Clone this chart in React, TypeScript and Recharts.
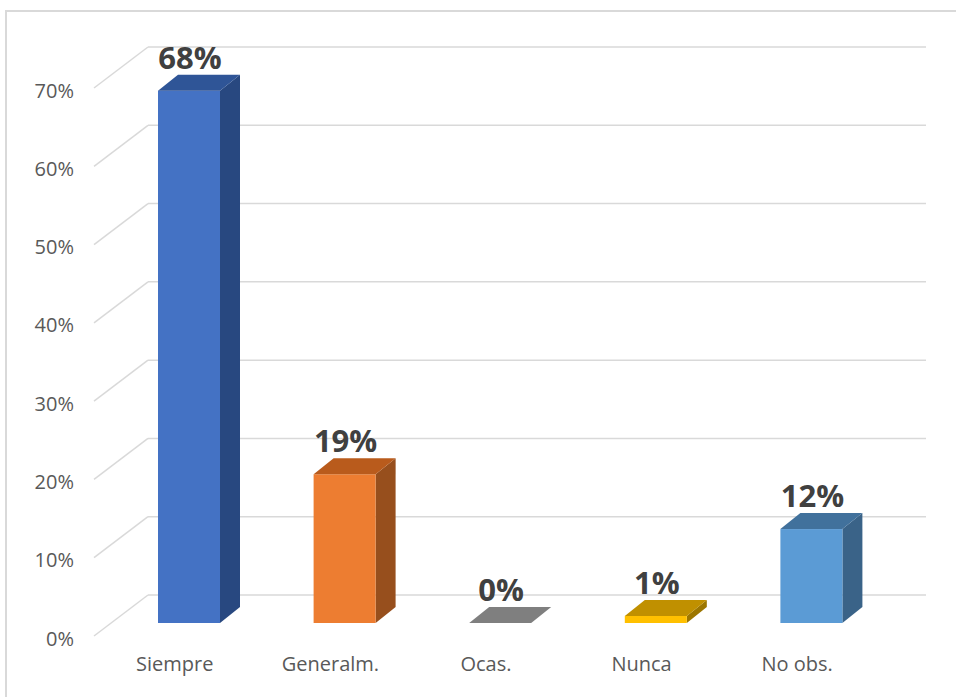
import React from 'react';
import { BarChart, Bar, XAxis, YAxis, CartesianGrid } from 'recharts';

const categories = ['Siempre', 'Generalm.', 'Ocas.', 'Nunca', 'No obs.'];
const values = [0.68, 0.19, 0, 0.009, 0.12];
const yTicks = [0, 0.1, 0.2, 0.3, 0.4, 0.5, 0.6, 0.7];
const yTickLabels = ['0%', '10%', '20%', '30%', '40%', '50%', '60%', '70%'];

const frontColors = ['#4472C4', '#ED7D31', '#A5A5A5', '#FFC000', '#5B9BD5'];
const topColors = ['#2F5597', '#B95B1C', '#7F7F7F', '#C09000', '#41719C'];
const sideColors = ['#284880', '#974F1D', '#636363', '#9C7600', '#3A6388'];

const data = categories.map((c, i) => ({ name: c, value: values[i] }));

const W = 956;
const H = 697;
const MARGIN = { top: 75, right: 67, left: 0, bottom: 44 };
const Y_AXIS_W = 111;
const X_AXIS_H = 30;
const PLOT_LEFT = MARGIN.left + Y_AXIS_W;
const PLOT_RIGHT = W - MARGIN.right;

// 3D depth geometry
const BAR_DX = 20;
const BAR_DY = 16;
const WALL_DX = 37;
const WALL_DY = 28;
const AXIS_DX = 54;
const AXIS_DY = 41;

const FONT = '"Open Sans", "Noto Sans", sans-serif';
const GRID = '#D9D9D9';

const gridLine = (props: any) => {
  const { y1, key } = props;
  const bx = PLOT_LEFT + WALL_DX;
  const by = y1 - WALL_DY;
  const fx = bx - AXIS_DX;
  const fy = by + AXIS_DY;
  return (
    <g key={key}>
      <line x1={bx} y1={by} x2={PLOT_RIGHT + WALL_DX} y2={by} stroke={GRID} strokeWidth={1.5} />
      <line x1={bx} y1={by} x2={fx} y2={fy} stroke={GRID} strokeWidth={1.5} />
    </g>
  );
};

const YTick = (props: any) => {
  const { y, payload, index } = props;
  const fy = y - WALL_DY + AXIS_DY;
  return (
    <text
      x={PLOT_LEFT - 37}
      y={fy + 2}
      textAnchor="end"
      dominantBaseline="central"
      fontFamily={FONT}
      fontSize={20}
      fill="#595959"
    >
      {yTickLabels[index] ?? `${Math.round(payload.value * 100)}%`}
    </text>
  );
};

const XTick = (props: any) => {
  const { x, y, payload } = props;
  return (
    <text
      x={x - 14}
      y={y + 48}
      textAnchor="middle"
      fontFamily={FONT}
      fontSize={20}
      fill="#595959"
    >
      {payload.value}
    </text>
  );
};

const Bar3D = (props: any) => {
  const { x, y, width, height, index, value } = props;
  const w = width;
  const h = Math.max(0, height || 0);
  const v = Array.isArray(value) ? value[1] - value[0] : value;
  return (
    <g>
      {h > 0 && (
        <path
          d={`M${x + w},${y} L${x + w + BAR_DX},${y - BAR_DY} L${x + w + BAR_DX},${y + h - BAR_DY} L${x + w},${y + h} Z`}
          fill={sideColors[index]}
        />
      )}
      {h > 0 && <rect x={x} y={y} width={w} height={h} fill={frontColors[index]} />}
      <path
        d={`M${x},${y} L${x + BAR_DX},${y - BAR_DY} L${x + w + BAR_DX},${y - BAR_DY} L${x + w},${y} Z`}
        fill={topColors[index]}
      />
      <text
        x={x + w / 2 + 1}
        y={y - 22}
        textAnchor="middle"
        fontFamily={FONT}
        fontWeight="bold"
        fontSize={31}
        fill="#404040"
      >
        {`${Math.round(v * 100)}%`}
      </text>
    </g>
  );
};

export default function App() {
  return (
    <div
      style={{
        position: 'absolute',
        left: 0,
        top: 0,
        width: W,
        height: H,
        overflow: 'hidden',
        background: '#fff',
      }}
    >
      <div
        style={{
          position: 'absolute',
          left: 5,
          top: 10,
          width: 1200,
          height: 1200,
          borderLeft: '2px solid #D9D9D9',
          borderTop: '2px solid #D9D9D9',
        }}
      />
      <div style={{ position: 'absolute', left: 0, top: 0 }}>
        <BarChart width={W} height={H} data={data} margin={MARGIN} barSize={62}>
          <CartesianGrid vertical={false} horizontal={gridLine} />
          <YAxis
            type="number"
            domain={[0, 0.7]}
            ticks={yTicks}
            width={Y_AXIS_W}
            axisLine={false}
            tickLine={false}
            tickSize={0}
            tickMargin={0}
            interval={0}
            tick={<YTick />}
          />
          <XAxis
            dataKey="name"
            height={X_AXIS_H}
            axisLine={false}
            tickLine={false}
            tickSize={0}
            tickMargin={0}
            interval={0}
            tick={<XTick />}
          />
          <Bar dataKey="value" isAnimationActive={false} shape={<Bar3D />} />
        </BarChart>
      </div>
    </div>
  );
}
